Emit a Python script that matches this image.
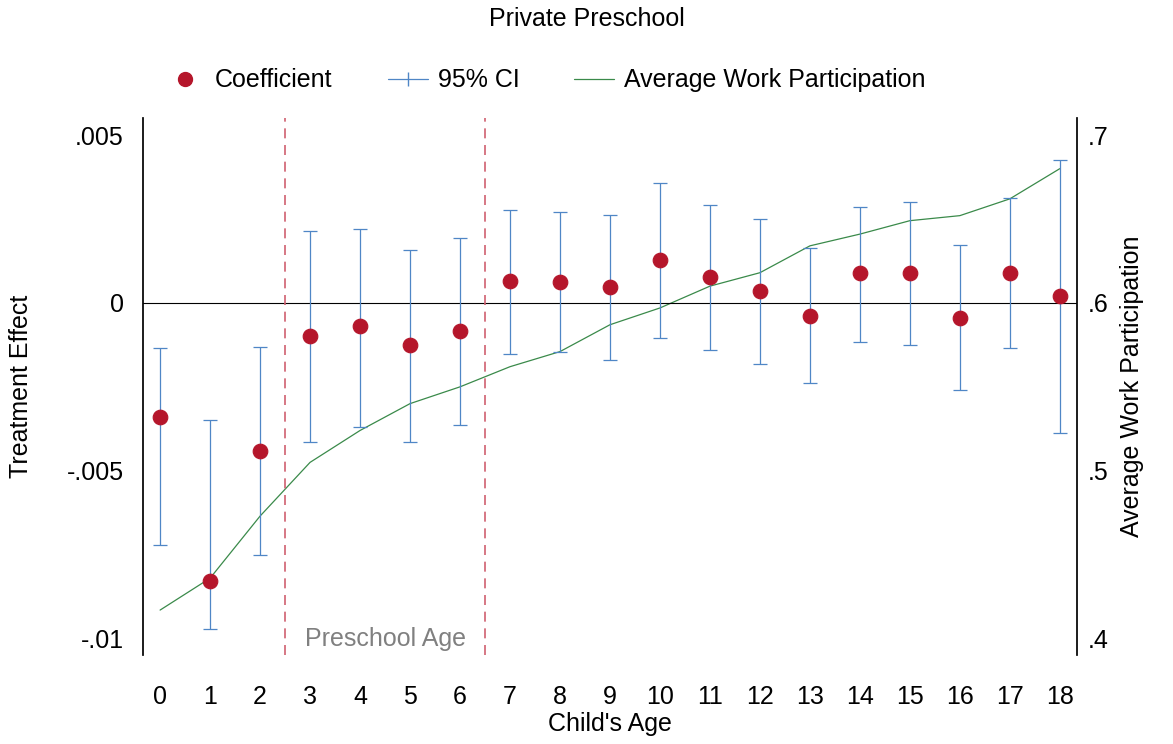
import numpy as np, pandas as pd, seaborn as sns
import matplotlib
matplotlib.use("Agg")
import matplotlib.pyplot as plt
from matplotlib.lines import Line2D

ages = list(range(19))
coef = [-0.0034,-0.00827,-0.0044,-0.00098,-0.0007,-0.00125,-0.00083,0.00065,0.00063,0.00048,
        0.00128,0.00077,0.00036,-0.00039,0.00089,0.00089,-0.00045,0.00089,0.00021]
ci_hi = [-0.00134,-0.0035,-0.0013,0.00214,0.0022,0.00158,0.00193,0.00277,0.00271,0.00262,
         0.00357,0.00292,0.0025,0.00164,0.00286,0.003,0.00173,0.00312,0.00426]
ci_lo = [-0.0072,-0.0097,-0.0075,-0.00414,-0.0037,-0.00414,-0.00363,-0.00152,-0.00146,-0.0017,
         -0.00104,-0.0014,-0.00182,-0.00238,-0.00116,-0.00125,-0.00259,-0.00134,-0.00387]
work = [0.417,0.436,0.473,0.505,0.524,0.540,0.550,0.562,0.571,0.587,0.597,0.610,0.618,0.634,
        0.641,0.649,0.652,0.662,0.680]

sns.set_theme(style="white")
plt.rcParams['font.family'] = ['Liberation Sans', 'DejaVu Sans']
plt.rcParams['text.color'] = 'black'
df = pd.DataFrame({"age": ages, "coef": coef, "hi": ci_hi, "lo": ci_lo, "work": work})

fig = plt.figure(figsize=(11.73, 7.44), dpi=100)
ax = fig.add_axes([0.122, 0.12, 0.796, 0.721])
ax2 = ax.twinx()
ci_col = "#4f86c6"
red = "#b5162b"
green = "#3a8a4a"
fs = 18

sns.lineplot(data=df, x="age", y="work", ax=ax2, color=green, lw=0.9)
ax2.set_ylim(0.4 - (0.01048-0.01)/0.05, 0.7 + (0.0055-0.005)/0.05)

ax.errorbar(df["age"], df["coef"], yerr=[df["coef"]-df["lo"], df["hi"]-df["coef"]],
            fmt="none", ecolor=ci_col, elinewidth=0.9, capsize=5, capthick=0.9, zorder=3)
sns.scatterplot(data=df, x="age", y="coef", ax=ax, color=red, s=110, edgecolor=red, zorder=4)
ax.set_zorder(ax2.get_zorder() + 1); ax.patch.set_visible(False)

ax.axhline(0, color="black", lw=0.8)
for xv in (2.5, 6.5):
    ax.axvline(xv, color="#d06070", ls=(0, (6, 4)), lw=1.2)
ax.text(4.5, -0.01, "Preschool Age", color="gray", fontsize=fs, ha="center", va="center")

ax.set_xlim(-0.34, 18.34)
ax.set_ylim(-0.01048, 0.0055)
ax.set_xticks(ages)
ax.set_yticks([-0.01, -0.005, 0, 0.005])
ax.set_yticklabels(["-.01", "-.005", "0", ".005"])
ax2.set_yticks([0.4, 0.5, 0.6, 0.7])
ax2.set_yticklabels([".4", ".5", ".6", ".7"])
for a in (ax, ax2):
    a.tick_params(labelsize=fs, labelcolor="black", length=0)
    for s in ("top", "bottom"):
        a.spines[s].set_visible(False)
    a.spines["left"].set_color("black"); a.spines["right"].set_color("black")
ax.tick_params(axis="x", pad=22)
ax.tick_params(axis="y", pad=14)
ax2.tick_params(axis="y", pad=8)
ax.spines["right"].set_visible(False)
ax2.spines["left"].set_visible(False)
ax.set_xlabel("Child's Age", fontsize=fs, color="black", labelpad=2)
ax.set_ylabel("Treatment Effect", fontsize=fs, color="black", labelpad=24)
ax2.set_ylabel("Average Work Participation", fontsize=fs, color="black", labelpad=8)

handles = [Line2D([], [], marker="o", color=red, ls="none", markersize=10),
           Line2D([], [], marker="|", color=ci_col, ls="-", lw=0.9, markersize=10),
           Line2D([], [], color=green, lw=0.9)]
fig.legend(handles, ["Coefficient", "95% CI", "Average Work Participation"], loc="center",
           bbox_to_anchor=(0.465, 0.892), ncol=3, frameon=False, fontsize=fs,
           handlelength=1.6, handletextpad=0.4, columnspacing=2.2)
fig.suptitle("Private Preschool", y=0.99, fontsize=fs, color="black")
fig.savefig("out.png", dpi=100)
